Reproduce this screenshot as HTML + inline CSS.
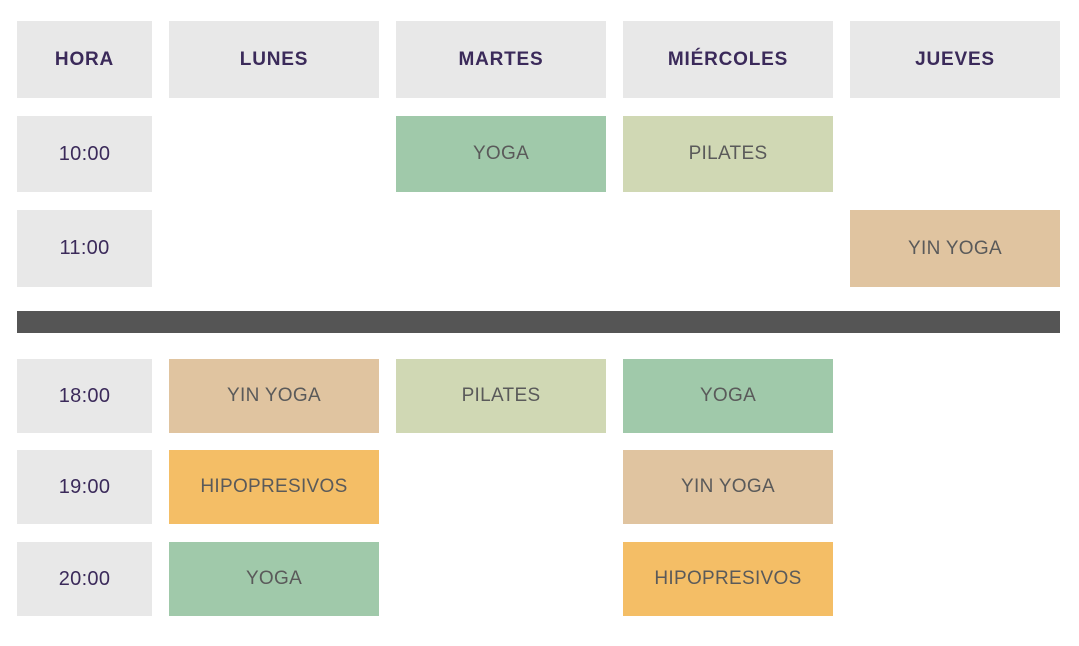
<!DOCTYPE html>
<html><head><meta charset="utf-8"><style>
body{margin:0;width:1079px;height:646px;background:#fff;position:relative;overflow:hidden;font-family:"Liberation Sans",sans-serif}
.c{position:absolute;display:flex;align-items:center;justify-content:center;font-size:19px;color:#5a5a5a;letter-spacing:0.3px}
.h{background:#e8e8e8;color:#3b2a5a;font-weight:bold;font-size:19px;letter-spacing:0.8px}
.t{background:#e8e8e8;color:#3b2a5a;font-size:20px}
.g{background:#a0c9aa}.l{background:#d0d8b4}.n{background:#e0c4a0}.o{background:#f4be66}
</style></head><body>
<div class="c h" style="left:17px;top:21px;width:135px;height:77px">HORA</div>
<div class="c h" style="left:169px;top:21px;width:210px;height:77px">LUNES</div>
<div class="c h" style="left:396px;top:21px;width:210px;height:77px">MARTES</div>
<div class="c h" style="left:623px;top:21px;width:210px;height:77px">MIÉRCOLES</div>
<div class="c h" style="left:850px;top:21px;width:210px;height:77px">JUEVES</div>

<div class="c t" style="left:17px;top:116px;width:135px;height:76px">10:00</div>
<div class="c g" style="left:396px;top:116px;width:210px;height:76px">YOGA</div>
<div class="c l" style="left:623px;top:116px;width:210px;height:76px">PILATES</div>

<div class="c t" style="left:17px;top:210px;width:135px;height:77px">11:00</div>
<div class="c n" style="left:850px;top:210px;width:210px;height:77px">YIN YOGA</div>

<div style="position:absolute;left:17px;top:311px;width:1043px;height:22px;background:#555"></div>

<div class="c t" style="left:17px;top:359px;width:135px;height:74px">18:00</div>
<div class="c n" style="left:169px;top:359px;width:210px;height:74px">YIN YOGA</div>
<div class="c l" style="left:396px;top:359px;width:210px;height:74px">PILATES</div>
<div class="c g" style="left:623px;top:359px;width:210px;height:74px">YOGA</div>

<div class="c t" style="left:17px;top:450px;width:135px;height:74px">19:00</div>
<div class="c o" style="left:169px;top:450px;width:210px;height:74px">HIPOPRESIVOS</div>
<div class="c n" style="left:623px;top:450px;width:210px;height:74px">YIN YOGA</div>

<div class="c t" style="left:17px;top:542px;width:135px;height:74px">20:00</div>
<div class="c g" style="left:169px;top:542px;width:210px;height:74px">YOGA</div>
<div class="c o" style="left:623px;top:542px;width:210px;height:74px">HIPOPRESIVOS</div>
</body></html>
